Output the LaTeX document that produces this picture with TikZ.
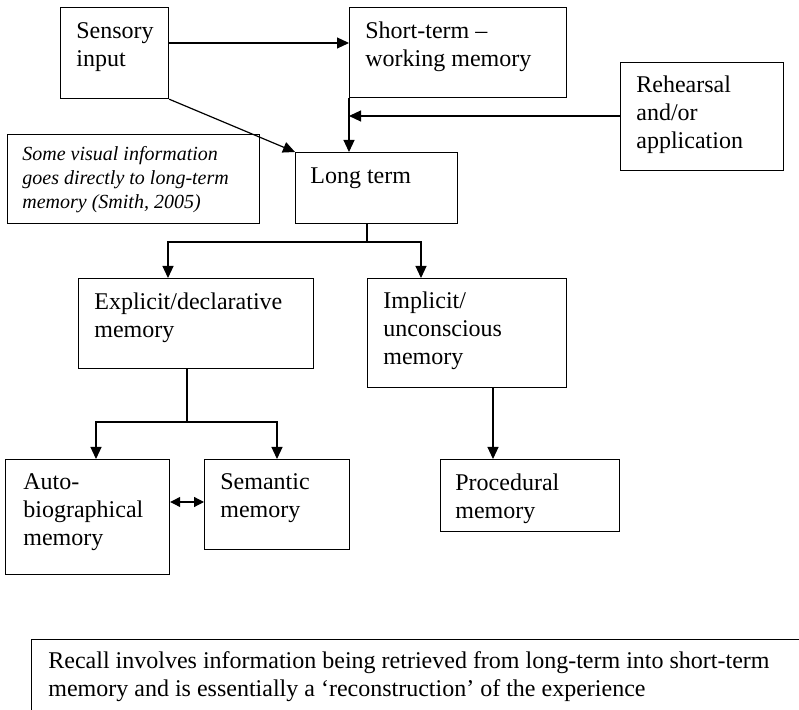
\documentclass[tikz,border=0pt]{standalone}
\usepackage{fontspec}
\setmainfont{Liberation Serif}
\usetikzlibrary{arrows.meta}

\tikzset{
  box/.style={draw, line width=0.6pt, anchor=north west, inner sep=0pt, rectangle},
  txt/.style={anchor=north west, inner sep=0pt, align=left,
              font=\fontsize{12}{14}\selectfont},
  smalltxt/.style={anchor=north west, inner sep=0pt, align=left,
              font=\fontsize{10}{12}\selectfont\itshape},
  link/.style={line width=0.6pt, -{Triangle[length=6pt,width=5.5pt]}},
  plain/.style={line width=0.6pt},
  both/.style={line width=0.6pt, {Triangle[length=5pt,width=5pt]}-{Triangle[length=5pt,width=5pt]}}
}

\begin{document}
\begin{tikzpicture}[x=0.5pt,y=-0.5pt]
\useasboundingbox (0,0) rectangle (799,710);
\clip (0,0) rectangle (799,710);

% boxes (one unit = one pixel of the 799 x 710 page)
\node[box, minimum width=54pt,   minimum height=45.5pt] (sens) at (60,7) {};
\node[box, minimum width=108.5pt, minimum height=45pt]  (stm)  at (349,7) {};
\node[box, minimum width=81.5pt, minimum height=54pt]   (reh)  at (620,62) {};
\node[box, minimum width=126pt,  minimum height=44.5pt] (note) at (7,134) {};
\node[box, minimum width=81pt,   minimum height=35.5pt] (lt)   at (295,152) {};
\node[box, minimum width=117.5pt, minimum height=45pt]  (exp)  at (78,278) {};
\node[box, minimum width=99.5pt, minimum height=54.5pt] (imp)  at (367,278) {};
\node[box, minimum width=82pt,   minimum height=57.5pt] (auto) at (5,459) {};
\node[box, minimum width=72.5pt, minimum height=45pt]   (sem)  at (204,459) {};
\node[box, minimum width=89.5pt, minimum height=36pt]   (proc) at (440,459) {};
\node[box, minimum width=400pt,  minimum height=52pt]   (rec)  at (31,639) {};

% texts: first baseline sits 19.6 units below the node top (strut height)
\node[txt] (sens-t) at (76,18.4)  {\strut Sensory\\\strut input};
\node[txt] (stm-t)  at (365,18.4) {\strut Short-term –\\\strut working memory};
\node[txt] (reh-t)  at (636,72.4) {\strut Rehearsal\\\strut and/or\\\strut application};
\node[smalltxt] (note-t) at (22,143.2) {\strut Some visual information\\\strut goes directly to long-term\\\strut memory (Smith, 2005)};
\node[txt] (lt-t)   at (310,163.4) {\strut Long term};
\node[txt] (exp-t)  at (94,289.4)  {\strut Explicit/declarative\\\strut memory};
\node[txt] (imp-t)  at (383,288.4) {\strut Implicit/\\\strut unconscious\\\strut memory};
\node[txt] (auto-t) at (23,469.4)  {\strut Auto-\\\strut biographical\\\strut memory};
\node[txt] (sem-t)  at (220,469.4) {\strut Semantic\\\strut memory};
\node[txt] (proc-t) at (455,470.4) {\strut Procedural\\\strut memory};
\node[txt] (rec-t)  at (48,648.4)  {\strut Recall involves information being retrieved from long-term into short-term\\\strut memory and is essentially a ‘reconstruction’ of the experience};

% connectors
\draw[link] (sens.east |- 0,43) -- (stm.west |- 0,43);
\draw[link] (sens.south east) -- (lt.north west);
\draw[link] (stm.south west) -- (stm.south west |- lt.north);
\draw[link] (reh.west |- 0,116) -- (stm.south west |- 0,116);

\coordinate (ltj) at (367,242);
\draw[plain] (lt.south -| ltj) -- (ltj);
\draw[link] (ltj) -| (exp.north -| 168,0);
\draw[link] (ltj) -| (imp.north -| 421,0);

\coordinate (expj) at (187,422);
\draw[plain] (exp.south -| expj) -- (expj);
\draw[link] (expj) -| (auto.north -| 96,0);
\draw[link] (expj) -| (sem.north -| 277,0);

\draw[link] (imp.south -| 493,0) -- (proc.north -| 493,0);
\draw[both] (auto.east |- 0,502) -- (sem.west |- 0,502);
\end{tikzpicture}
\end{document}
